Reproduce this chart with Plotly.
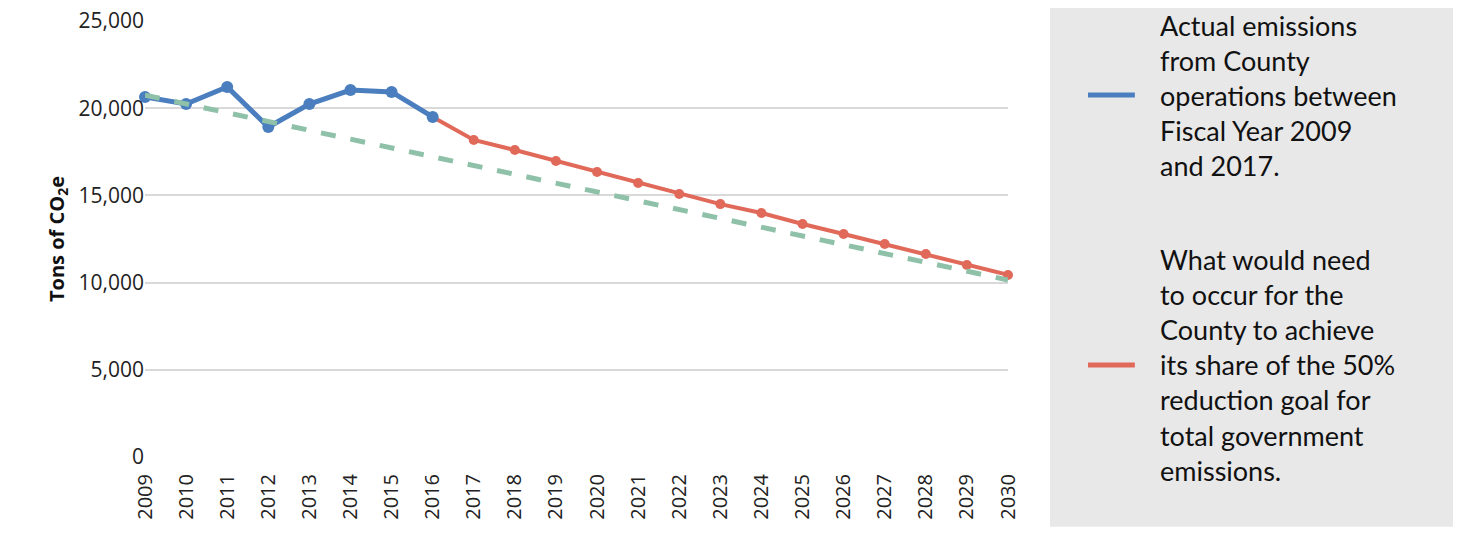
import plotly.graph_objects as go

years_actual = [2009, 2010, 2011, 2012, 2013, 2014, 2015, 2016]
actual = [20640, 20240, 21220, 18920, 20240, 21040, 20930, 19500]

years_goal = list(range(2016, 2031))
goal = [19500, 18180, 17600, 16970, 16340, 15710, 15080, 14500, 13990,
        13360, 12790, 12210, 11640, 11010, 10440]

years_trend = [2009, 2030]
trend = [20750, 10150]

year_ticks = list(range(2009, 2031))
y_ticks = [0, 5000, 10000, 15000, 20000, 25000]

BLUE = "#4a7ebf"
RED = "#e0695a"
GREEN = "#8fc1a9"

fig = go.Figure()

fig.add_trace(go.Scatter(
    x=years_goal, y=goal, mode="lines+markers",
    line=dict(color=RED, width=4), marker=dict(size=10, color=RED),
    cliponaxis=False, showlegend=False
))
fig.add_trace(go.Scatter(
    x=years_actual, y=actual, mode="lines+markers",
    line=dict(color=BLUE, width=5), marker=dict(size=12, color=BLUE),
    cliponaxis=False, showlegend=False
))
fig.add_trace(go.Scatter(
    x=years_trend, y=trend, mode="lines",
    line=dict(color=GREEN, width=5, dash="dash"),
    cliponaxis=False, showlegend=False
))

# grey legend panel
fig.add_shape(type="rect", xref="paper", yref="paper",
              x0=1.0487, x1=1.56, y0=-0.16, y1=1.08,
              fillcolor="#e8e8e8", line_width=0, layer="below")

legend_items = [
    (0.83, BLUE, "Actual emissions<br>from County<br>operations between<br>Fiscal Year 2009<br>and 2017."),
    (0.211, RED, "What would need<br>to occur for the<br>County to achieve<br>its share of the 50%<br>reduction goal for<br>total government<br>emissions."),
]
for ypos, color, text in legend_items:
    fig.add_shape(type="line", xref="paper", yref="paper",
                  x0=1.0927, x1=1.147, y0=ypos, y1=ypos,
                  line=dict(color=color, width=5))
    fig.add_annotation(xref="paper", yref="paper", x=1.174, y=ypos,
                       text=text, showarrow=False, xanchor="left", yanchor="middle",
                       align="left", font=dict(family="Lato", size=27, color="#111"))

fig.update_layout(
    width=1461, height=533,
    margin=dict(l=137, r=461, t=13, b=84, autoexpand=False),
    plot_bgcolor="white", paper_bgcolor="white",
    font=dict(family="Open Sans", color="#333"),
)
fig.update_xaxes(range=[2009, 2030], tickvals=year_ticks, tickangle=-90,
                 showgrid=False, zeroline=False, tickfont=dict(size=20, color="#222"),
                 ticks="outside", ticklen=8, tickcolor="rgba(0,0,0,0)", automargin=False)
fig.update_yaxes(range=[0, 25000], tickvals=y_ticks, tickformat=",",
                 gridcolor="#d9d9d9", gridwidth=2, zeroline=False,
                 ticklabeloverflow="allow", automargin=False,
                 tickfont=dict(size=21, color="#222"), ticksuffix="  ",
                 title=dict(text="<b>Tons of CO<sub>2</sub>e</b>", font=dict(size=20, color="#111"),
                            standoff=8))

fig.write_html("out.html")
